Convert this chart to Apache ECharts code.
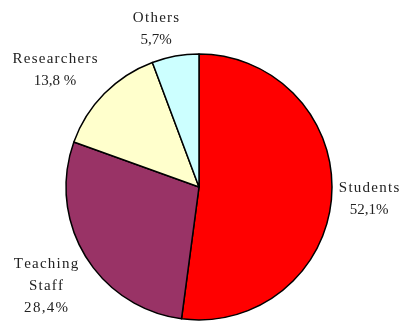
<!DOCTYPE html>
<html>
<head>
<meta charset="utf-8">
<script src="https://cdn.jsdelivr.net/npm/echarts@6/dist/echarts.min.js"></script>
<style>
  html, body { margin: 0; padding: 0; background: #fff; }
  #chart { width: 402px; height: 322px; }
</style>
</head>
<body>
<div id="chart"></div>
<script>
// Staff composition shares (percent)
const categories = ['Students', 'Teaching\nStaff', 'Researchers', 'Others'];
const shares = [52.1, 28.4, 13.8, 5.7];
const shareLabels = ['52,1%', '28,4%', '13,8 %', '5,7%'];
const sliceColors = ['#ff0000', '#993366', '#ffffcc', '#ccffff'];

// label anchor points (centre of each text block)
const labelAnchors = [[369, 199], [46, 286], [55, 70], [156, 29]];

// spread the glyphs a little with hair spaces (typeset look)
const HAIR = '\u200A';
const spread = s => s.split('\n').map(line => line.split('').join(HAIR)).join('\n');

const chart = echarts.init(document.getElementById('chart'), null, { renderer: 'canvas' });

chart.setOption({
  backgroundColor: '#ffffff',
  animation: false,
  series: [{
    type: 'pie',
    center: [199, 187],
    radius: 133,
    startAngle: 90,
    clockwise: true,
    avoidLabelOverlap: false,
    emphasis: { disabled: true },
    data: categories.map((name, i) => ({
      name: name,
      value: shares[i],
      itemStyle: { color: sliceColors[i] }
    })),
    itemStyle: { borderColor: '#000', borderWidth: 1.5 },
    label: {
      show: true,
      position: 'outside',
      formatter: p => {
        const pct = p.dataIndex === 1 ? spread(shareLabels[p.dataIndex]) : shareLabels[p.dataIndex];
        return spread(p.name) + '\n' + pct;
      },
      fontFamily: '"Liberation Serif", "DejaVu Serif", serif',
      fontSize: 15,
      lineHeight: 22,
      color: '#222',
      align: 'center'
    },
    labelLine: { show: false },
    labelLayout: p => ({
      x: labelAnchors[p.dataIndex][0],
      y: labelAnchors[p.dataIndex][1],
      align: 'center',
      verticalAlign: 'middle'
    })
  }]
});
</script>
</body>
</html>
